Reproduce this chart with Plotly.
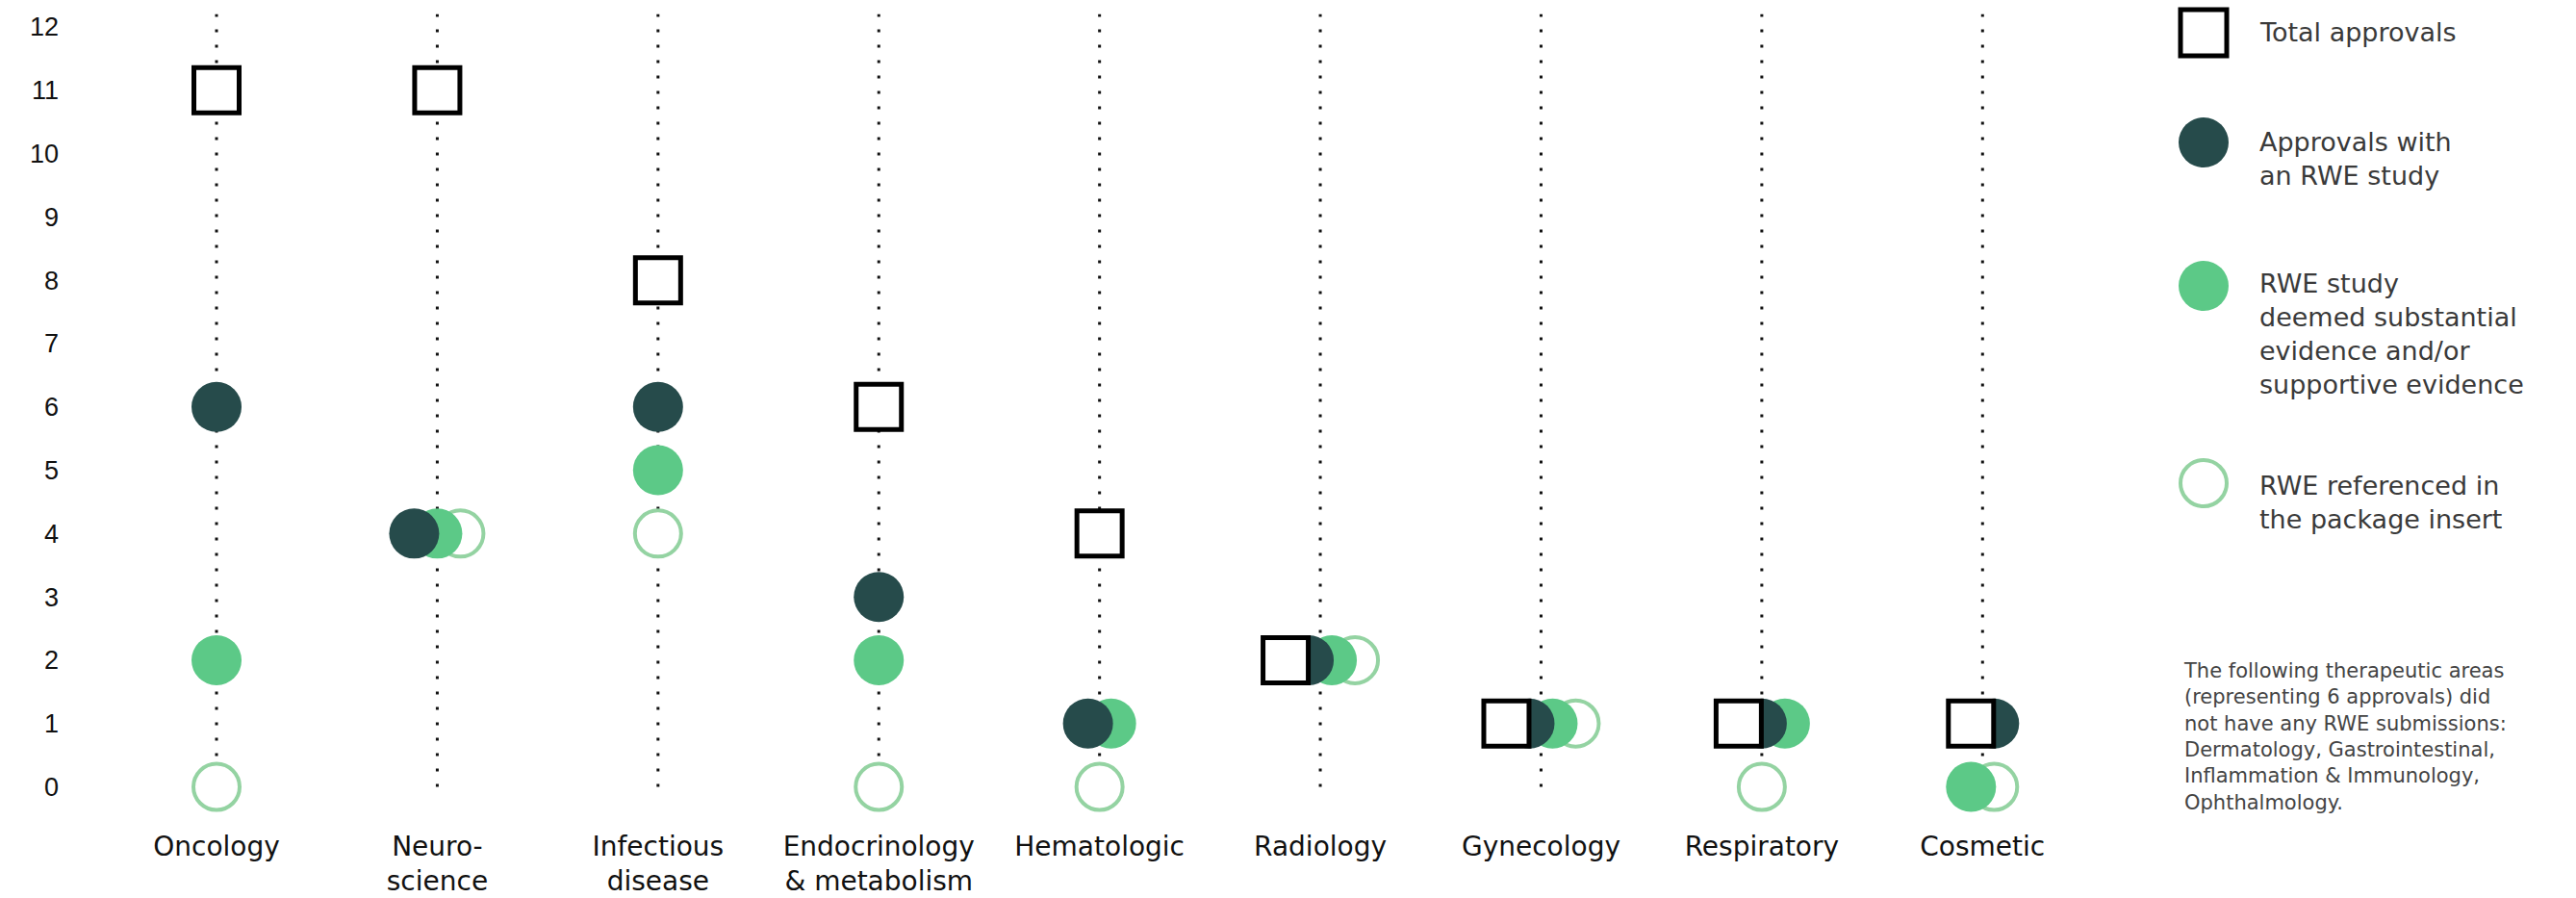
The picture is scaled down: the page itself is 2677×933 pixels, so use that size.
import plotly.graph_objects as go

# ---------------- data ----------------
categories = ["Oncology", "Neuro-<br>science", "Infectious<br>disease",
              "Endocrinology<br>& metabolism", "Hematologic", "Radiology",
              "Gynecology", "Respiratory", "Cosmetic"]
total_approvals = [11, 11, 8, 6, 4, 2, 1, 1, 1]
rwe_study = [6, 4, 6, 3, 1, 2, 1, 1, 1]
rwe_substantial = [2, 4, 5, 2, 1, 2, 1, 1, 0]
rwe_package_insert = [0, 4, 4, 0, 0, 2, 1, 0, 0]
y_ticks = list(range(0, 13))
legend_labels = ["Total approvals",
                 "Approvals with<br>an RWE study",
                 "RWE study<br>deemed substantial<br>evidence and/or<br>supportive evidence",
                 "RWE referenced in<br>the package insert"]
note_text = ("The following therapeutic areas<br>(representing 6 approvals) did<br>"
             "not have any RWE submissions:<br>Dermatology, Gastrointestinal,<br>"
             "Inflammation & Immunology,<br>Ophthalmology.")

# ---------------- styles / layout ----------------
W, H = 2677, 933
L, R, T, B = 90, 477, 5, 76
X_RANGE = [-0.5885, 8.609]
Y_RANGE = [-0.6, 12.35]
px_per_unit = (W - L - R) / (X_RANGE[1] - X_RANGE[0])
STEP = 24 / px_per_unit          # horizontal spread for coinciding markers

DARK = "#264B4B"
GREEN = "#5CC987"
RING = "#94D3A2"
TEXT = "#3a3a3a"
FONT = "DejaVu Sans"

series = [total_approvals, rwe_study, rwe_substantial, rwe_package_insert]

# offsets for markers sharing the same value in a category (left-to-right order)
offsets = [[0.0] * len(categories) for _ in series]
for i in range(len(categories)):
    vals = {}
    for s, arr in enumerate(series):
        vals.setdefault(arr[i], []).append(s)
    for v, members in vals.items():
        n = len(members)
        for k, s in enumerate(members):
            offsets[s][i] = (k - (n - 1) / 2) * STEP

xs = list(range(len(categories)))

fig = go.Figure()

# dotted guide lines
lx, ly = [], []
for i in xs:
    lx += [i, i, None]
    ly += [0, 12.2, None]
fig.add_trace(go.Scatter(x=lx, y=ly, mode="lines",
                         line=dict(color="#111", width=3, dash="3px,13px"),
                         hoverinfo="skip", showlegend=False))

def xpos(s):
    return [x + o for x, o in zip(xs, offsets[s])]

# draw order: ring (bottom) -> green -> dark -> square (top)
fig.add_trace(go.Scatter(x=xpos(3), y=rwe_package_insert, mode="markers",
                         marker=dict(symbol="circle", size=48, color="white",
                                     line=dict(color=RING, width=4)),
                         name="RWE referenced in the package insert", showlegend=False))
fig.add_trace(go.Scatter(x=xpos(2), y=rwe_substantial, mode="markers",
                         marker=dict(symbol="circle", size=52, color=GREEN,
                                     line=dict(width=0)),
                         name="RWE study deemed substantial evidence", showlegend=False))
fig.add_trace(go.Scatter(x=xpos(1), y=rwe_study, mode="markers",
                         marker=dict(symbol="circle", size=52, color=DARK,
                                     line=dict(width=0)),
                         name="Approvals with an RWE study", showlegend=False))
fig.add_trace(go.Scatter(x=xpos(0), y=total_approvals, mode="markers",
                         marker=dict(symbol="square", size=47, color="white",
                                     line=dict(color="black", width=5)),
                         name="Total approvals", showlegend=False))

def px_x(p):
    return (p - L) / (W - L - R)

def px_y(p):
    return (H - B - p) / (H - T - B)

# custom legend
LEG_X = 2290
TXT_X = 2346
legend_rows = [  # (marker center y, first text line center y)
    (34, 34), (148, 147), (297, 294), (502, 504)]
shapes = []
kinds = ["square", "dark", "green", "ring"]
for (cy, ty), kind, label in zip(legend_rows, kinds, legend_labels):
    base = dict(xref="paper", yref="paper", xsizemode="pixel", ysizemode="pixel",
                xanchor=px_x(LEG_X), yanchor=px_y(cy), layer="above")
    if kind == "square":
        shapes.append(dict(type="rect", x0=-24, x1=24, y0=-24, y1=24,
                           line=dict(color="black", width=5), fillcolor="white", **base))
    elif kind == "dark":
        shapes.append(dict(type="circle", x0=-26, x1=26, y0=-26, y1=26,
                           line=dict(width=0), fillcolor=DARK, **base))
    elif kind == "green":
        shapes.append(dict(type="circle", x0=-26, x1=26, y0=-26, y1=26,
                           line=dict(width=0), fillcolor=GREEN, **base))
    else:
        shapes.append(dict(type="circle", x0=-24, x1=24, y0=-24, y1=24,
                           line=dict(color=RING, width=4), fillcolor="white", **base))
    n = label.count("<br>") + 1
    center = ty + (n - 1) * 27 * 1.3 / 2
    fig.add_annotation(x=px_x(TXT_X), y=px_y(center), xref="paper", yref="paper",
                       xanchor="left", yanchor="middle", align="left", showarrow=False,
                       text=label, font=dict(family=FONT, size=27, color=TEXT))

n_note = note_text.count("<br>") + 1
note_center = 697 + (n_note - 1) * 21 * 1.3 / 2
fig.add_annotation(x=px_x(2267), y=px_y(note_center), xref="paper", yref="paper",
                   xanchor="left", yanchor="middle", align="left", showarrow=False,
                   text=note_text, font=dict(family=FONT, size=21, color="#444"))

fig.update_layout(
    template="none",
    width=W, height=H,
    margin=dict(l=L, r=R, t=T, b=B, pad=0, autoexpand=False),
    paper_bgcolor="white", plot_bgcolor="white",
    shapes=shapes,
    showlegend=False,
    hovermode=False,
    xaxis=dict(range=X_RANGE, tickvals=xs, ticktext=categories, automargin=False,
               showgrid=False, zeroline=False, showline=False, ticks="",
               tickfont=dict(family=FONT, size=28, color="#111"),
               ticklabelstandoff=3, fixedrange=True),
    yaxis=dict(range=Y_RANGE, tickvals=y_ticks, ticktext=[str(v) for v in y_ticks],
               automargin=False,
               showgrid=False, zeroline=False, showline=False, ticks="",
               tickfont=dict(family="Liberation Sans", size=27, color="#111"),
               ticklabelstandoff=28, fixedrange=True),
)

fig.write_html("out.html", config={"displayModeBar": False},
               post_script="document.body.style.margin='0';document.body.style.overflow='hidden';")
